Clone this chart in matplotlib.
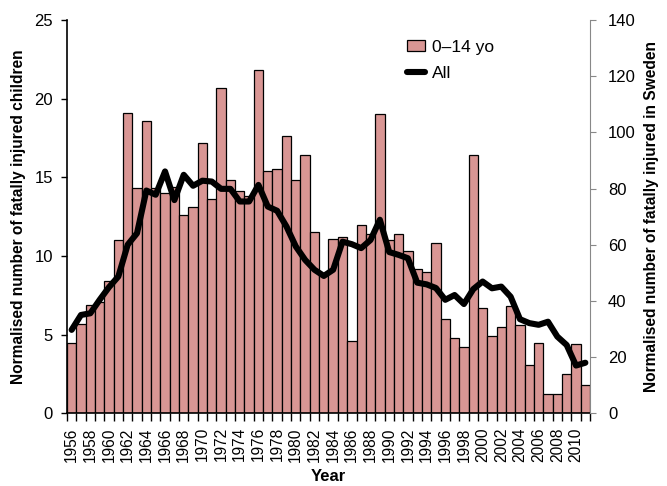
import matplotlib
matplotlib.use('Agg')
import matplotlib.pyplot as plt
import numpy as np

plt.rcParams['font.family'] = ['Liberation Sans', 'DejaVu Sans']

years = list(range(1956, 2012))

# normalised number of fatally injured children (0-14 yo), left axis
kids = [4.5, 5.7, 6.9, 7.1, 8.4, 11.0, 19.1, 14.3, 18.6, 14.3,
        14.0, 14.4, 12.6, 13.1, 17.2, 13.6, 20.7, 14.8, 14.1, 13.8,
        21.8, 15.4, 15.5, 17.6, 14.8, 16.4, 11.5, 8.9, 11.1, 11.2,
        4.6, 12.0, 11.4, 19.0, 11.0, 11.4, 10.3, 9.2, 9.0, 10.8,
        6.0, 4.8, 4.2, 16.4, 6.7, 4.9, 5.5, 6.8, 5.6, 3.1,
        4.5, 1.2, 1.2, 2.5, 4.4, 1.8]

# normalised number of fatally injured in Sweden (all), right axis
allv = [29.7, 35.0, 35.6, 40.4, 44.9, 48.7, 60.0, 64.1, 79.3, 77.8,
        86.1, 75.9, 84.9, 81.0, 82.8, 82.5, 79.9, 79.9, 75.4, 75.4,
        81.3, 73.6, 72.1, 66.5, 59.4, 54.6, 51.1, 48.9, 51.1, 61.1,
        60.2, 58.8, 61.7, 68.9, 57.4, 56.4, 55.2, 46.5, 45.9, 44.6,
        40.4, 42.1, 38.9, 44.2, 46.9, 44.5, 45.1, 41.5, 33.5, 32.1,
        31.5, 32.6, 27.3, 24.3, 17.0, 18.0]

x = np.arange(len(years))

fig = plt.figure(figsize=(6.67, 4.86), dpi=100)
ax = fig.add_axes([0.1004, 0.1496, 0.7842, 0.8092])
ax2 = ax.twinx()

bars = ax.bar(x, kids, width=1.0, color='#D99694', edgecolor='black',
              linewidth=0.9, label='0\u201314 yo', zorder=2)
ln, = ax2.plot(x, allv, color='black', lw=4.4, solid_capstyle='round',
               solid_joinstyle='round', label='All', zorder=3)

ax.set_xlim(-0.5, len(years) - 0.5)
ax.set_ylim(0, 25)
ax2.set_ylim(0, 140)
ax.set_yticks(range(0, 26, 5))
ax2.set_yticks(range(0, 141, 20))

ax.set_xticks(x[::2])
ax.set_xticklabels([str(y) for y in years[::2]], rotation=90, fontsize=11.2)
ax.set_xticks(np.arange(-0.5, len(years), 1), minor=True)
ax.tick_params(axis='x', which='major', length=0, pad=10)
ax.tick_params(axis='x', which='minor', length=6, width=1, color='black', direction='out')
ax.tick_params(axis='y', labelsize=12, length=4, width=1, direction='out', pad=6)
ax2.tick_params(axis='y', labelsize=12, length=4, width=0.8, color='#888888', direction='out', pad=9)

ax.spines['top'].set_visible(False)
ax2.spines['top'].set_visible(False)
ax.spines['left'].set_linewidth(1.2)
ax.spines['bottom'].set_linewidth(1.2)
ax2.spines['left'].set_visible(False)
ax2.spines['bottom'].set_visible(False)
ax2.spines['right'].set_color('#888888')
ax2.spines['right'].set_linewidth(0.8)
ax.spines['right'].set_visible(False)

ax.set_xlabel('Year', fontsize=12, fontweight='bold', labelpad=5)
ax.set_ylabel('Normalised number of fatally injured children', fontsize=11.2, fontweight='bold', labelpad=6)
ax2.set_ylabel('Normalised number of fatally injured in Sweden', fontsize=11.2, fontweight='bold', labelpad=6)

fig.legend([bars, ln], ['0\u201314 yo', 'All'], loc='upper left',
           bbox_to_anchor=(0.5875, 0.95), frameon=False, fontsize=12.5,
           handlelength=1.0, handleheight=0.6, labelspacing=0.65, handletextpad=0.4)

fig.savefig('out.png', dpi=100)
